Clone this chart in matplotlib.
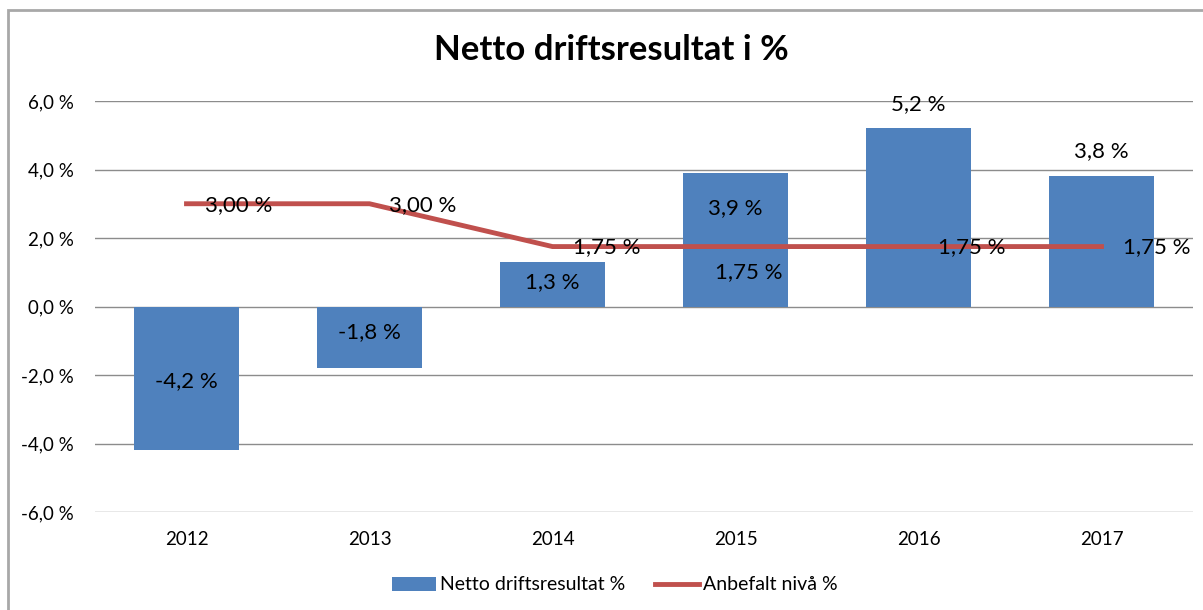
import matplotlib.pyplot as plt
from matplotlib.patches import Rectangle
import numpy as np

# chart data
years = ['2012', '2013', '2014', '2015', '2016', '2017']
netto = [-4.2, -1.8, 1.3, 3.9, 5.2, 3.8]
anbefalt = [3.00, 3.00, 1.75, 1.75, 1.75, 1.75]
yticks = [-6, -4, -2, 0, 2, 4, 6]

plt.rcParams['font.family'] = ['Lato', 'DejaVu Sans']

fig = plt.figure(figsize=(12.03, 6.10), dpi=100)
ax = fig.add_axes([95/1203, 1 - 512/610, 1098/1203, 411/610])

x = np.arange(len(years))
bars = ax.bar(x, netto, width=0.575, color='#4F81BD', zorder=2)
line, = ax.plot(x, anbefalt, color='#C0504D', lw=3.5, zorder=3)

ax.set_xlim(-0.5, len(years) - 0.5)
ax.set_ylim(-6, 6)
ax.set_yticks(yticks)
ax.yaxis.set_major_formatter(plt.FuncFormatter(lambda v, p: ('%.1f %%' % v).replace('.', ',')))
ax.set_xticks(x)
ax.set_xticklabels(years)
ax.tick_params(length=0, labelsize=13.5)
ax.tick_params(axis='x', pad=14)
ax.tick_params(axis='y', pad=15.5)
ax.grid(axis='y', color='#8c8c8c', lw=1, zorder=0)
for s in ax.spines.values():
    s.set_visible(False)

def fmt1(v):
    return ('%.1f %%' % v).replace('.', ',')

# bar value labels, placed roughly where Excel put them
bar_y = [-2.19, -0.76, 0.70, 2.86, 5.9, 4.53]
for i, v in enumerate(netto):
    ax.text(i, bar_y[i], fmt1(v), ha='center', va='center', fontsize=16, zorder=4)

# line value labels
line_off = [(0.285, -0.05), (0.29, -0.05), (0.295, -0.03), (0.07, -0.76), (0.29, -0.03), (0.3, -0.03)]
for i, v in enumerate(anbefalt):
    dx, dy = line_off[i]
    ax.text(i + dx, v + dy, ('%.2f %%' % v).replace('.', ','), ha='center', va='center',
            fontsize=16, zorder=4)

fig.suptitle('Netto driftsresultat i %', x=611/1203, y=1 - 50/610, va='center',
             fontsize=25, fontweight='bold')

fig.legend([bars, line], ['Netto driftsresultat %', 'Anbefalt nivå %'],
           loc='center', bbox_to_anchor=(0.511, 1 - 585/610), ncol=2, frameon=False,
           fontsize=14, handlelength=2.3, handletextpad=0.2, columnspacing=1.5)

# outer chart border (only top/left visible in the crop)
fig.patches.append(Rectangle((8/1203, -0.1), 1, 1 - 10/610 + 0.1, transform=fig.transFigure,
                             fill=False, edgecolor='#a8a8a8', lw=2))

fig.savefig('out.png', dpi=100)
